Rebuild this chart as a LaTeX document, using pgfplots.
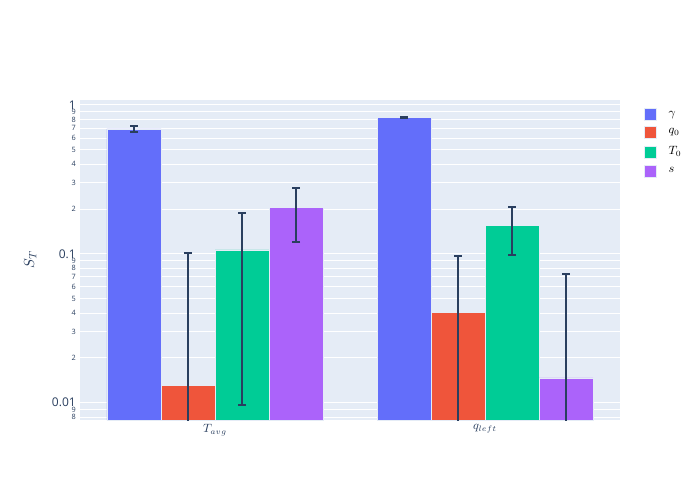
\documentclass[border=0pt]{standalone}
\usepackage{fontspec}
\setmainfont{Open Sans}
\usepackage{pgfplots}
\pgfplotsset{compat=1.18}
\definecolor{cg}{HTML}{636EFA}
\definecolor{cq}{HTML}{EF553B}
\definecolor{ct}{HTML}{00CC96}
\definecolor{cs}{HTML}{AB63FA}
\definecolor{ec}{HTML}{2A3F5F}
\definecolor{bgc}{HTML}{E5ECF6}
\newcommand\sm{\fontsize{5.5}{6}\selectfont}
\begin{document}
\begin{tikzpicture}
\path[use as bounding box] (0pt,0pt) rectangle (525pt,375pt);
\begin{axis}[
  at={(60pt,60pt)}, anchor=south west, scale only axis,
  width=405pt, height=240pt,
  ymode=log, log origin y=infty,
  ymin=0.00765, ymax=1.08, xmin=-0.5, xmax=1.5,
  ybar=0pt, bar width=40.5pt,
  axis background/.style={fill=bgc},
  axis line style={draw=none},
  major tick length=0pt, minor tick length=0pt,
  xtick={0,1}, xticklabels={$T_{avg}$, $q_{left}$},
  xticklabel style={font=\fontsize{9}{10}\selectfont, text=ec},
  ytick={0.008,0.009,0.01,0.02,0.03,0.04,0.05,0.06,0.07,0.08,0.09,0.1,0.2,0.3,0.4,0.5,0.6,0.7,0.8,0.9,1},
  yticklabels={{\sm 8},{\sm 9},0.01,{\sm 2},{\sm 3},{\sm 4},{\sm 5},{\sm 6},{\sm 7},{\sm 8},{\sm 9},0.1,{\sm 2},{\sm 3},{\sm 4},{\sm 5},{\sm 6},{\sm 7},{\sm 8},{\sm 9},1},
  yticklabel style={font=\fontsize{9}{10}\selectfont, text=ec, inner sep=1pt, xshift=-2pt},
  ymajorgrids, major grid style={white, line width=0.75pt},
  ylabel={$S_T$},
  ylabel style={at={(axis description cs:-0.072,0.5)}, font=\fontsize{11}{12}\selectfont, text=ec},
  legend style={draw=none, fill=none, at={(axis description cs:1.044,0.975)}, anchor=north west,
    inner sep=0pt, row sep=4pt, column sep=7pt, cells={anchor=west}, font=\fontsize{9}{10}\selectfont},
  legend cell align=left,
  error bars/y dir=both, error bars/y explicit,
  error bars/error mark=|,
  error bars/error bar style={line width=1.5pt, color=ec},
  error bars/error mark options={line width=1.5pt, mark size=3pt, color=ec},
  every axis plot/.append style={
    legend image code/.code={\fill[##1] (0pt,-4.5pt) rectangle (9pt,4.5pt);}},
]
\addplot[fill=cg, draw=bgc, line width=0.4pt] coordinates {
  (0,0.690) += (0,0.036) -= (0,0.035)
  (1,0.826) += (0,0.008) -= (0,0.008)
};
\addplot[fill=cq, draw=bgc, line width=0.4pt] coordinates {
  (0,0.0130) += (0,0.0885) -= (0,0.009)
  (1,0.0402) += (0,0.0572) -= (0,0.036)
};
\addplot[fill=ct, draw=bgc, line width=0.4pt] coordinates {
  (0,0.1064) += (0,0.081) -= (0,0.0967)
  (1,0.1556) += (0,0.052) -= (0,0.0567)
};
\addplot[fill=cs, draw=bgc, line width=0.4pt] coordinates {
  (0,0.2056) += (0,0.072) -= (0,0.086)
  (1,0.0147) += (0,0.0582) -= (0,0.0107)
};
\legend{$\gamma$, $q_0$, $T_0$, $s$}
\end{axis}
\end{tikzpicture}
\end{document}
